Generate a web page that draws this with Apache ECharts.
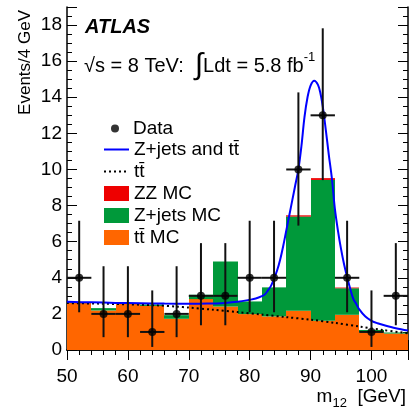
<!DOCTYPE html>
<html>
<head>
<meta charset="utf-8">
<script src="https://cdn.jsdelivr.net/npm/echarts@6/dist/echarts.min.js"></script>
<style>
  html, body { margin: 0; padding: 0; background: #fff; }
  #chart { width: 411px; height: 410px; }
</style>
</head>
<body>
<div id="chart"></div>
<script>
// Dilepton invariant mass m12, 4 GeV bins from 50 to 106 GeV
const binLow = [50, 54, 58, 62, 66, 70, 74, 78, 82, 86, 90, 94, 98, 102];
const binWidth = 4;

// Stacked MC expectations (events per bin)
const ttbarMC = [2.60, 2.19, 2.55, 2.44, 1.73, 2.82, 2.41, 1.99, 1.86, 2.17, 1.62, 1.95, 0.97, 0.91];
const zjetsMC = [0.05, 0.13, 0.03, 0.08, 0.20, 0.24, 2.49, 0.70, 1.61, 5.22, 7.80, 1.47, 0.14, 0.06];
const zzMC    = [0.00, 0.00, 0.00, 0.00, 0.00, 0.00, 0.00, 0.00, 0.00, 0.07, 0.10, 0.04, 0.00, 0.00];

// Observed events with asymmetric (Poisson) error bounds
const dataX    = [52, 56, 60, 64, 68, 72, 76, 80, 84, 88, 92, 96, 100, 104];
const dataY    = [4, 2, 2, 1, 2, 3, 3, 4, 4, 10, 13, 4, 1, 3];
const dataLow  = [2.09, 0.71, 0.71, 0.17, 0.71, 1.37, 1.37, 2.09, 2.09, 6.89, 9.41, 2.09, 0.17, 1.37];
const dataHigh = [7.16, 4.64, 4.64, 3.30, 4.64, 5.92, 5.92, 7.16, 7.16, 14.27, 17.82, 7.16, 3.30, 5.92];

// Fitted Z+jets and ttbar shape
const fitX = [50, 54, 58, 62, 66, 70, 73, 76, 78, 80, 81, 82, 82.5, 83, 83.5, 84, 84.5, 85, 85.5, 86, 86.5, 87, 87.5, 88, 88.5, 89, 89.5, 90, 90.6, 91.2, 91.6, 92, 92.5, 93, 93.5, 94, 94.5, 95, 95.5, 96, 96.5, 97, 97.5, 98, 99, 100, 101, 102, 104, 106];
const fitY = [2.67, 2.64, 2.61, 2.59, 2.57, 2.56, 2.57, 2.61, 2.67, 2.78, 2.85, 2.98, 3.08, 3.30, 3.55, 3.95, 4.40, 5.00, 5.75, 6.60, 7.45, 8.30, 9.15, 10.0, 11.3, 12.9, 14.0, 14.65, 14.92, 14.7, 14.25, 13.5, 12.2, 10.8, 9.5, 7.8, 6.6, 5.6, 4.75, 4.05, 3.4, 2.85, 2.55, 2.25, 1.85, 1.62, 1.48, 1.38, 1.21, 1.08];

// Fitted ttbar component alone
const ttX = [50, 55, 60, 65, 68, 70, 74, 78, 82, 86, 90, 94, 98, 102, 106];
const ttY = [2.60, 2.57, 2.53, 2.47, 2.40, 2.35, 2.23, 2.10, 1.96, 1.82, 1.68, 1.50, 1.30, 1.10, 0.93];

// Axis ticks
const xTickLabels = [50, 60, 70, 80, 90, 100];
const yTickLabels = [0, 2, 4, 6, 8, 10, 12, 14, 16, 18];

const FONT = '"Liberation Sans", Arial, Helvetica, sans-serif';
const xMin = 50, xMax = 106, yMin = 0, yMax = 19;

const TT = 'tt\u0304';
const TT_LINE = 'tt\u0304\u200b';

// cumulative stack boundaries
const stack1 = ttbarMC.map((v, i) => v + zjetsMC[i]);
const stack2 = stack1.map((v, i) => v + zzMC[i]);

function histLayer(name, color, base, top) {
  return {
    type: 'custom',
    name: name,
    itemStyle: { color: color },
    clip: true,
    data: binLow.map((x, i) => [x, x + binWidth, base[i], top[i]]),
    encode: { x: [0, 1], y: [2, 3] },
    renderItem: function (params, api) {
      const p0 = api.coord([api.value(0), api.value(2)]);
      const p1 = api.coord([api.value(1), api.value(3)]);
      const x0 = Math.round(p0[0]), x1 = Math.round(p1[0]);
      return {
        type: 'rect',
        shape: { x: x0, y: p1[1], width: x1 - x0, height: p0[1] - p1[1] },
        style: { fill: color }
      };
    }
  };
}

const chart = echarts.init(document.getElementById('chart'), null, { renderer: 'canvas' });

const axisCommon = {
  axisLine: { show: true, lineStyle: { color: '#000', width: 1.5 } },
  axisTick: { show: true, inside: true, length: 10, lineStyle: { color: '#000', width: 1 } },
  minorTick: { show: true, length: 5, lineStyle: { color: '#000', width: 1 } },
  splitLine: { show: false }
};

const legendText = { fontSize: 19, fontFamily: FONT, color: '#000' };

chart.setOption({
  animation: false,
  backgroundColor: '#fff',
  grid: { left: 67, right: 2, top: 7, bottom: 60, containLabel: false },
  xAxis: [
    Object.assign({
      type: 'value', position: 'bottom', min: xMin, max: xMax, interval: 10,
      axisLabel: {
        show: true, margin: 17, color: '#000', fontSize: 19, fontFamily: FONT,
        formatter: v => xTickLabels.indexOf(v) >= 0 ? String(v) : ''
      }
    }, axisCommon, { minorTick: Object.assign({}, axisCommon.minorTick, { splitNumber: 5 }) }),
    Object.assign({
      type: 'value', position: 'top', min: xMin, max: xMax, interval: 10,
      axisLabel: { show: false }
    }, axisCommon, { minorTick: Object.assign({}, axisCommon.minorTick, { splitNumber: 5 }) })
  ],
  yAxis: [
    Object.assign({
      type: 'value', position: 'left', min: yMin, max: yMax, interval: 2,
      axisLabel: {
        show: true, margin: 5, color: '#000', fontSize: 19, fontFamily: FONT,
        formatter: v => yTickLabels.indexOf(v) >= 0 ? String(v) : ''
      }
    }, axisCommon, { minorTick: Object.assign({}, axisCommon.minorTick, { splitNumber: 4 }) }),
    Object.assign({
      type: 'value', position: 'right', min: yMin, max: yMax, interval: 2,
      axisLabel: { show: false }
    }, axisCommon, { minorTick: Object.assign({}, axisCommon.minorTick, { splitNumber: 4 }) })
  ],
  legend: [
    {
      data: [{ name: 'Data', icon: 'circle' }],
      orient: 'vertical', left: 106, top: 114,
      itemWidth: 8, itemHeight: 8, selectedMode: false,
      textStyle: Object.assign({ padding: [0, 0, 0, 9] }, legendText)
    },
    {
      data: [
        { name: 'Z+jets and ' + TT, itemStyle: { opacity: 0 } },
        { name: TT_LINE, itemStyle: { opacity: 0 } },
        { name: 'ZZ MC', icon: 'rect' },
        { name: 'Z+jets MC', icon: 'rect' },
        { name: TT + ' MC', icon: 'rect' }
      ],
      orient: 'vertical', left: 98, top: 135,
      itemWidth: 25, itemHeight: 15, itemGap: 3, selectedMode: false,
      textStyle: legendText
    }
  ],
  graphic: [
    {
      type: 'text', left: 85, top: 17,
      style: { text: 'ATLAS', fontSize: 20, fontWeight: 'bold', fontStyle: 'italic', fontFamily: FONT, fill: '#000' }
    },
    {
      type: 'text', x: 84, y: 66,
      style: {
        text: '{n|\u221As = 8 TeV:  }{i|\u222B}{n|Ldt = 5.8 fb}{s|-1}',
        verticalAlign: 'middle', align: 'left',
        rich: {
          n: { fontSize: 20, fontFamily: FONT, fill: '#000' },
          i: { fontSize: 30, fontFamily: FONT, fill: '#000' },
          s: { fontSize: 13, fontFamily: FONT, fill: '#000', verticalAlign: 'top' }
        }
      }
    },
    {
      type: 'text', x: 25, y: 10, rotation: Math.PI / 2,
      style: { text: 'Events/4 GeV', fontSize: 17, fontFamily: FONT, fill: '#000', align: 'right', verticalAlign: 'middle' }
    },
    {
      type: 'text', x: 406, y: 397,
      style: {
        text: '{n|m}{b|12}{n|  [GeV]}',
        align: 'right', verticalAlign: 'middle',
        rich: {
          n: { fontSize: 19, fontFamily: FONT, fill: '#000', lineHeight: 26 },
          b: { fontSize: 13, fontFamily: FONT, fill: '#000', verticalAlign: 'bottom' }
        }
      }
    }
  ],
  series: [
    histLayer(TT + ' MC', '#ff6600', binLow.map(() => 0), ttbarMC),
    histLayer('Z+jets MC', '#00993a', ttbarMC, stack1),
    histLayer('ZZ MC', '#ee0000', stack1, stack2),
    {
      type: 'line', name: TT_LINE,
      data: ttX.map((x, i) => [x, ttY[i]]),
      symbol: 'none', smooth: 0.3, clip: true,
      lineStyle: { color: '#000', width: 2, type: [2, 3] },
      itemStyle: { color: '#000' }, z: 3
    },
    {
      type: 'line', name: 'Z+jets and ' + TT,
      data: fitX.map((x, i) => [x, fitY[i]]),
      symbol: 'none', smooth: 0.35, clip: true,
      lineStyle: { color: '#0000ff', width: 2 },
      itemStyle: { color: '#0000ff' }, z: 3
    },
    {
      type: 'custom', name: 'Data errors', z: 4, clip: true,
      data: dataX.map((x, i) => [x, dataY[i], dataLow[i], dataHigh[i]]),
      encode: { x: 0, y: [1, 2, 3] },
      renderItem: function (params, api) {
        const x = api.value(0), y = api.value(1);
        const pLo = api.coord([x, api.value(2)]);
        const pHi = api.coord([x, api.value(3)]);
        const pL = api.coord([x - binWidth / 2, y]);
        const pR = api.coord([x + binWidth / 2, y]);
        return {
          type: 'group',
          children: [
            { type: 'line', shape: { x1: pLo[0], y1: pLo[1], x2: pHi[0], y2: pHi[1] }, style: { stroke: '#111', lineWidth: 2 } },
            { type: 'line', shape: { x1: pL[0], y1: pL[1], x2: pR[0], y2: pR[1] }, style: { stroke: '#111', lineWidth: 2 } }
          ]
        };
      }
    },
    {
      type: 'scatter', name: 'Data', z: 5,
      data: dataX.map((x, i) => [x, dataY[i]]),
      symbol: 'circle', symbolSize: 8,
      itemStyle: { color: '#000' }
    }
  ]
});
</script>
</body>
</html>
